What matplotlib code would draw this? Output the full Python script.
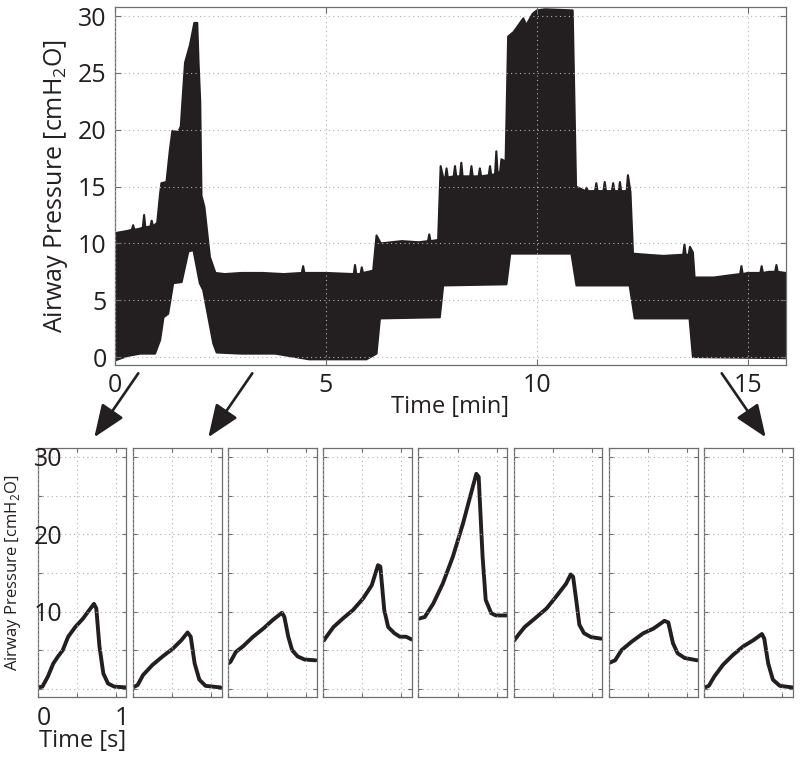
import numpy as np
import matplotlib
matplotlib.use("Agg")
import matplotlib.pyplot as plt
import matplotlib.transforms as mtrans

plt.rcParams['font.family'] = ['Open Sans', 'DejaVu Sans']
plt.rcParams['mathtext.fontset'] = 'custom'
plt.rcParams['mathtext.rm'] = 'Open Sans'

INK = '#231f20'
FRAME = '#6d6e71'
GRID = '#b0b0b0'

# ---- top trace: envelope of the airway pressure signal (min, cmH2O)
upper_t = [0.0, 0.3, 0.4, 0.43, 0.46, 0.6, 0.66, 0.69, 0.72, 0.84, 0.87, 0.9, 1.0,
           1.07, 1.1, 1.22, 1.3, 1.36, 1.5, 1.56, 1.6, 1.66, 1.78, 1.88, 1.95, 1.98,
           2.02, 2.05, 2.12, 2.25, 2.38, 2.6, 3.0, 3.5, 4.0, 4.43, 4.46, 4.49, 5.0,
           5.66, 5.69, 5.72, 5.82, 5.85, 5.88, 6.12, 6.2, 6.3, 6.8, 7.2, 7.42, 7.45,
           7.48, 7.66, 7.72, 7.78, 7.83, 7.86, 7.89, 8.03, 8.06, 8.09, 8.18, 8.21,
           8.24, 8.42, 8.45, 8.48, 8.62, 8.65, 8.68, 8.86, 8.89, 8.92, 9.01, 9.04,
           9.07, 9.13, 9.16, 9.26, 9.32, 9.45, 9.68, 9.75, 9.9, 10.0, 10.2, 10.85,
           10.93, 11.15, 11.18, 11.21, 11.38, 11.41, 11.44, 11.58, 11.61, 11.64,
           11.78, 11.81, 11.84, 11.94, 11.97, 12.0, 12.13, 12.16, 12.22, 12.28, 12.6,
           13.0, 13.47, 13.5, 13.53, 13.6, 13.63, 13.7, 13.74, 14.2, 14.6, 14.82,
           14.85, 14.88, 15.0, 15.3, 15.33, 15.36, 15.5, 15.65, 15.68, 15.71, 15.9]
upper_p = [10.9, 11.1, 11.2, 11.6, 11.2, 11.3, 11.4, 12.5, 11.4, 11.5, 12.0, 11.5, 11.8,
           14.4, 15.3, 15.4, 18.2, 19.9, 19.8, 20.3, 22.6, 25.9, 27.5, 29.4, 29.4, 26.0,
           22.5, 14.2, 13.2, 8.8, 7.4, 7.3, 7.4, 7.4, 7.3, 7.4, 8.0, 7.4, 7.4,
           7.3, 8.1, 7.3, 7.3, 7.9, 7.4, 7.6, 10.7, 10.0, 10.2, 10.1, 10.2, 10.8,
           10.2, 10.3, 16.8, 15.8, 15.8, 16.6, 15.8, 15.9, 16.8, 15.9, 15.9, 17.1,
           15.9, 15.9, 16.8, 15.9, 15.9, 16.6, 15.9, 16.0, 16.8, 16.0, 16.1, 18.1,
           16.2, 16.3, 17.4, 17.2, 28.2, 28.6, 29.8, 29.2, 30.2, 30.5, 30.6, 30.5,
           15.0, 14.6, 14.9, 14.6, 14.6, 15.3, 14.6, 14.6, 15.4, 14.6,
           14.6, 15.3, 14.6, 14.6, 15.4, 14.6, 14.6, 16.0, 14.5, 9.1, 9.0,
           8.9, 9.0, 9.9, 9.0, 9.0, 9.7, 9.2, 7.0, 7.0, 7.2, 7.3,
           8.0, 7.3, 7.4, 7.4, 8.0, 7.4, 7.5, 7.5, 8.1, 7.5, 7.4]
lower_t = [0.0, 0.3, 0.6, 0.95, 1.07, 1.15, 1.26, 1.38, 1.58, 1.74, 1.86, 2.01, 2.09,
           2.33, 2.41, 3.0, 3.8, 4.6, 5.96, 6.2, 6.28, 7.7, 7.78, 9.28, 9.37,
           10.82, 10.94, 12.2, 12.32, 13.62, 13.7, 15.9]
lower_p = [-0.3, 0.1, 0.3, 0.3, 1.5, 3.5, 3.8, 6.5, 6.6, 9.3, 9.4, 6.5, 5.9,
           1.2, 0.4, 0.3, 0.3, -0.2, -0.2, 0.3, 3.4, 3.5, 6.3, 6.4, 9.1,
           9.1, 6.3, 6.3, 3.4, 3.4, 0.0, -0.1]

# ---- single breaths (s, cmH2O), one per small panel
breath_t = [
    [0.0, 0.06, 0.13, 0.2, 0.26, 0.32, 0.39, 0.48, 0.58, 0.66, 0.72, 0.75, 0.79, 0.84, 0.9, 0.98, 1.13],
    [0.0, 0.06, 0.13, 0.25, 0.38, 0.51, 0.62, 0.7, 0.74, 0.79, 0.85, 0.93, 1.12],
    [0.0, 0.03, 0.1, 0.19, 0.32, 0.45, 0.57, 0.69, 0.72, 0.77, 0.82, 0.89, 0.98, 1.12],
    [0.01, 0.04, 0.13, 0.25, 0.38, 0.51, 0.62, 0.7, 0.73, 0.78, 0.83, 0.91, 0.98, 1.06, 1.13],
    [0.01, 0.08, 0.19, 0.31, 0.44, 0.57, 0.67, 0.74, 0.77, 0.82, 0.86, 0.93, 0.99, 1.13],
    [0.01, 0.06, 0.14, 0.27, 0.42, 0.54, 0.67, 0.73, 0.76, 0.8, 0.84, 0.9, 0.99, 1.12],
    [0.01, 0.08, 0.16, 0.29, 0.44, 0.57, 0.71, 0.76, 0.82, 0.88, 0.97, 1.13],
    [0.01, 0.06, 0.13, 0.24, 0.37, 0.5, 0.63, 0.74, 0.77, 0.82, 0.88, 0.97, 1.13],
]
breath_p = [
    [0.2, 0.3, 1.6, 3.3, 4.2, 5.0, 6.75, 8.0, 9.1, 10.2, 11.0, 10.4, 5.5, 2.0, 0.7, 0.3, 0.2],
    [0.2, 0.5, 1.8, 3.1, 4.2, 5.2, 6.3, 7.3, 6.75, 3.3, 1.2, 0.4, 0.2],
    [3.3, 3.5, 4.8, 5.5, 6.75, 7.8, 8.9, 9.85, 9.3, 6.75, 5.0, 4.2, 3.8, 3.7],
    [6.3, 6.75, 8.0, 9.1, 10.2, 11.7, 13.4, 16.0, 15.8, 10.2, 8.0, 7.2, 6.75, 6.75, 6.4],
    [9.1, 9.3, 11.05, 13.6, 17.1, 21.4, 25.2, 27.8, 27.4, 17.1, 11.5, 9.8, 9.5, 9.5],
    [6.3, 7.0, 8.0, 9.1, 10.4, 11.9, 13.6, 14.8, 14.5, 11.5, 8.3, 7.2, 6.7, 6.5],
    [3.4, 3.7, 5.0, 6.1, 7.2, 7.8, 8.8, 8.6, 5.9, 4.6, 4.0, 3.7],
    [0.2, 0.4, 1.6, 3.1, 4.4, 5.5, 6.3, 7.1, 6.5, 3.3, 1.2, 0.4, 0.2],
]

ylab = 'Airway Pressure [cmH$_2$O]'

fig = plt.figure(figsize=(8.0, 7.61), dpi=100)


def style(ax):
    for s in ax.spines.values():
        s.set_color(FRAME)
        s.set_linewidth(0.9)
    ax.tick_params(direction='in', top=True, right=True, color=FRAME,
                   length=4, width=0.8, labelcolor=INK)
    ax.grid(True, color=GRID, linestyle=(0, (1, 3)), linewidth=0.8)
    ax.set_axisbelow(False)


# top panel
ax = fig.add_axes([115 / 800, 1 - 365 / 761, 670.7 / 800, 358 / 761])
ax.fill(np.concatenate([upper_t, lower_t[::-1]]),
        np.concatenate([upper_p, lower_p[::-1]]),
        color=INK, linewidth=1.5, edgecolor=INK, joinstyle='round')
ax.set_xlim(0, 15.9)
ax.set_ylim(-0.7, 30.8)
ax.set_xticks([0, 5, 10, 15])
ax.set_yticks(range(0, 31, 5))
style(ax)
ax.tick_params(labelsize=18, pad=6)
ax.set_xlabel('Time [min]', fontsize=17, color=INK)
ax.set_ylabel(ylab, fontsize=18, color=INK)
ax.xaxis.set_label_coords(0.5, -0.085)
ax.yaxis.set_label_coords(-0.067, 0.5)

# bottom row of single breaths
x0 = 37.7
step = 95.2
for i in range(len(breath_t)):
    bx = fig.add_axes([(x0 + i * step) / 800, 1 - 696.7 / 761, 88.7 / 800, 248.4 / 761])
    bx.plot(breath_t[i], breath_p[i], color=INK, linewidth=2.8,
            solid_joinstyle='round', solid_capstyle='round')
    bx.set_xlim(0, 1.135)
    bx.set_ylim(-1.0, 31.1)
    bx.set_xticks([0, 0.5, 1])
    bx.set_yticks(range(0, 31, 5))
    style(bx)
    bx.tick_params(length=3)
    if i == 0:
        bx.set_xticklabels(['0', '', '1'])
        bx.set_yticklabels(['', '', '10', '', '20', '', '30'])
        bx.tick_params(labelsize=18)
        bx.tick_params(axis='y', pad=-17.5)
        bx.tick_params(axis='x', pad=7)
        off = mtrans.ScaledTranslation(6 / 100, 0, fig.dpi_scale_trans)
        for lbl in bx.get_xticklabels():
            lbl.set_transform(lbl.get_transform() + off)
        bx.set_xlabel('Time [s]', fontsize=17, color=INK)
        bx.xaxis.set_label_coords(0.51, -0.13)
        bx.set_ylabel(ylab, fontsize=12, color=INK)
        bx.yaxis.set_label_coords(-0.166, 0.5)
    else:
        bx.set_xticklabels([])
        bx.set_yticklabels([])

# arrows from the long trace down to the breath panels
arrows = [((138.3, 373.3), (94.3, 437.3)),
          ((252.3, 373.3), (208.3, 437.3)),
          ((721.7, 373.3), (765.7, 437.3))]
for (sx, sy), (ex, ey) in arrows:
    fig.add_artist(matplotlib.patches.FancyArrowPatch(
        (sx / 800, 1 - sy / 761), (ex / 800, 1 - ey / 761),
        transform=fig.transFigure, arrowstyle='-|>,head_length=2.0,head_width=0.8',
        mutation_scale=10, linewidth=1.9, color=INK, shrinkA=0, shrinkB=0))

fig.savefig('out.png', dpi=100)
